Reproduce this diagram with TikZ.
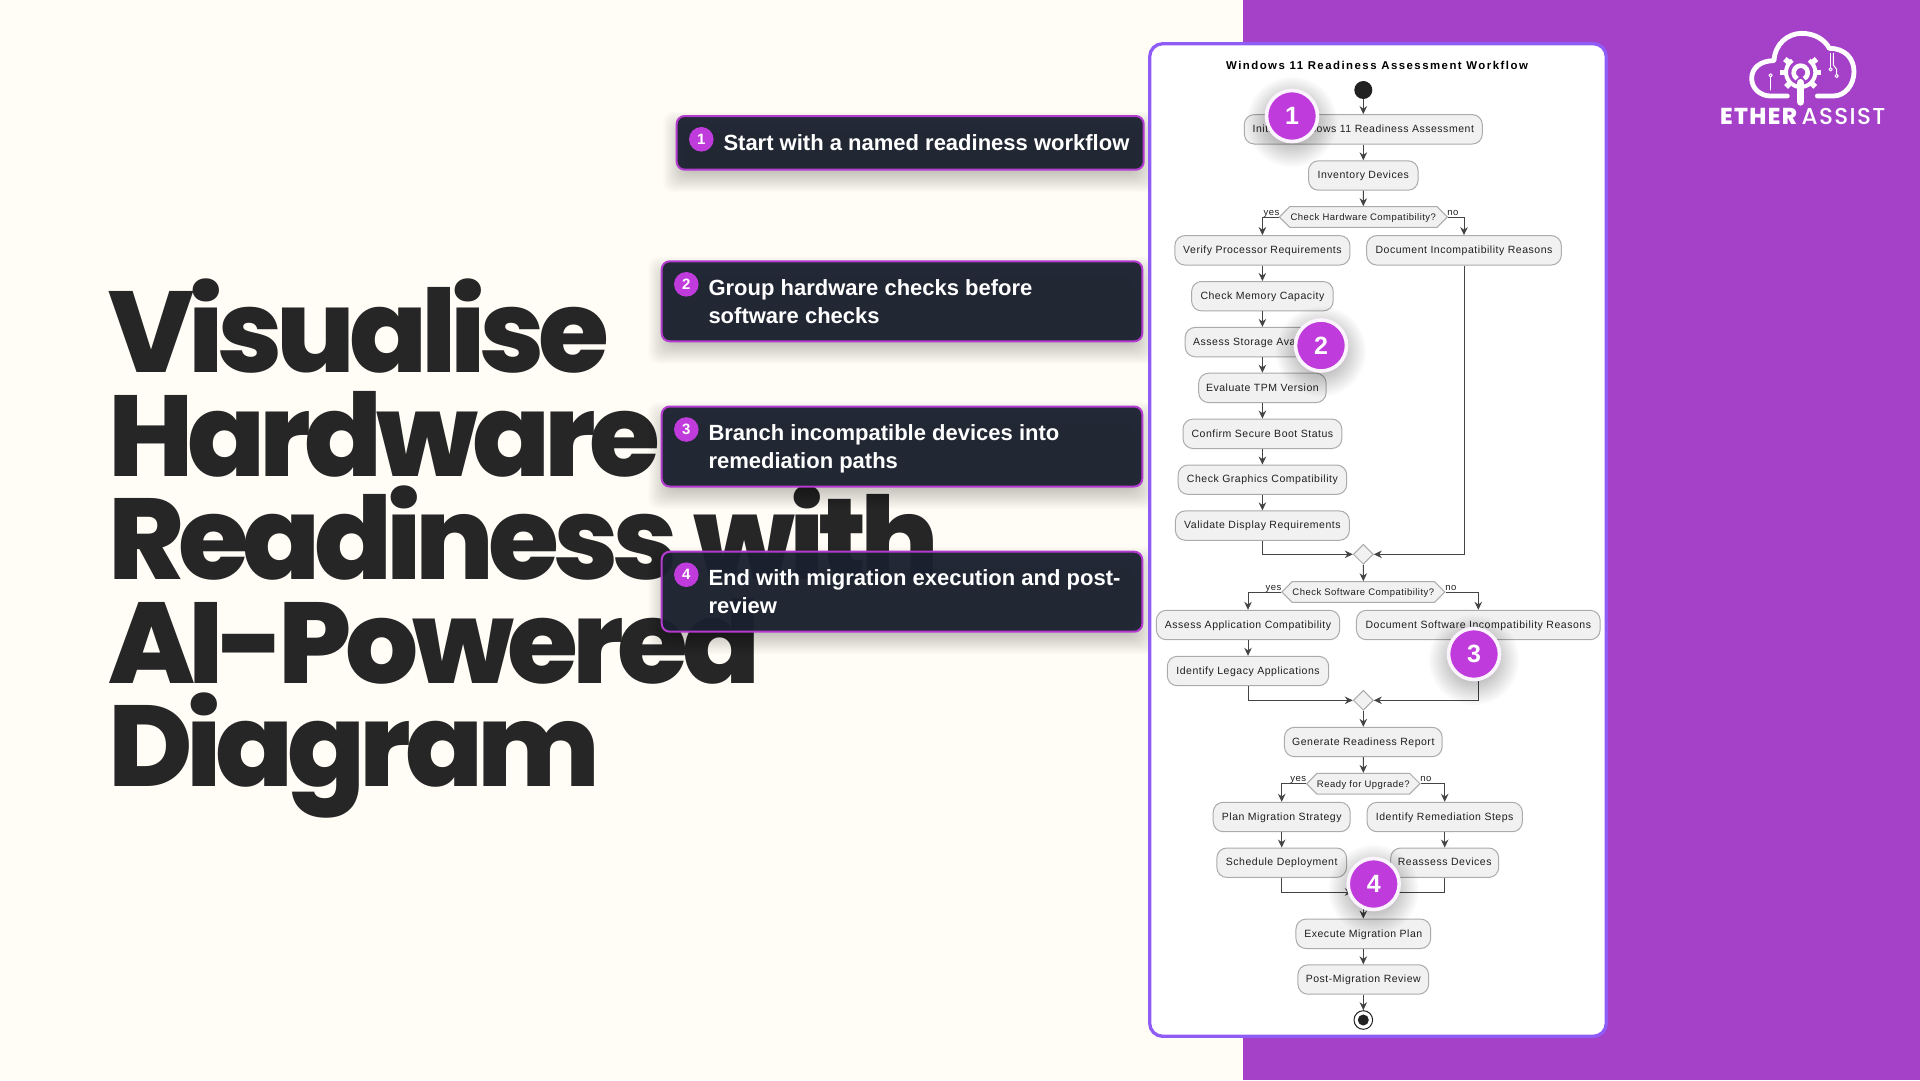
\documentclass[tikz,border=0pt]{standalone}
\usepackage{fontspec}
\usetikzlibrary{arrows.meta,shapes.geometric,shapes.symbols}
\setmainfont{Liberation Sans}
\newfontfamily\flowf[LetterSpace=5]{Liberation Sans}
\newfontfamily\titlef[LetterSpace=13]{Liberation Sans}
\newfontfamily\headf[LetterSpace=-5.4]{Poppins ExtraBold}
\newfontfamily\logof[LetterSpace=6]{Poppins Medium}
\newfontfamily\logox[LetterSpace=6]{Poppins ExtraBold}
\definecolor{cream}{HTML}{FFFDF6}
\definecolor{purp}{HTML}{A540C8}
\definecolor{violet}{HTML}{8F5CF6}
\definecolor{mag}{HTML}{C03BDB}
\definecolor{edgemag}{HTML}{B43BCF}
\definecolor{navy}{HTML}{1B212F}
\definecolor{ink}{HTML}{262626}
\definecolor{boxfill}{HTML}{F1F1F1}
\definecolor{boxline}{HTML}{ABABAB}
\definecolor{lineink}{HTML}{444444}
\tikzset{
  act/.style={draw=boxline,fill=boxfill,line width=1pt,rounded corners=10pt,minimum height=29.4pt,inner sep=0pt,text height=8.4pt,text depth=2pt,text=black!88,font=\flowf\fontsize{10.5}{12}\selectfont},
  decide/.style={draw=boxline,fill=boxfill,line width=1pt,shape=signal,signal to=west and east,signal pointer angle=90,minimum height=20.6pt,inner sep=0pt,text height=9.4pt,text depth=2pt,text=black!88,font=\flowf\fontsize{9.5}{11}\selectfont},
  merge/.style={draw=boxline,fill=boxfill,line width=1pt,shape=diamond,aspect=1,minimum size=20pt,inner sep=0pt},
  branchlabel/.style={anchor=base,inner sep=0pt,text=black!88,font=\flowf\fontsize{9.5}{11}\selectfont},
  flowline/.style={draw=lineink,line width=1pt,-{Stealth[length=8pt,width=7.5pt,inset=2.6pt]}},
  callout/.style={draw=edgemag,line width=2pt,fill=navy,fill opacity=.955,draw opacity=1,rounded corners=8pt,inner sep=0pt},
  callnum/.style={circle,fill=mag,minimum size=24.6pt,inner sep=0pt,text=white,font=\bfseries\fontsize{15}{15}\selectfont},
  calltext/.style={inner sep=0pt,align=left,text=white,font=\bfseries\fontsize{22}{28}\selectfont},
  badge/.style={circle,fill=mag,draw=mag!6!white,line width=3.6pt,minimum size=51pt,inner sep=0pt,text=white,font=\bfseries\fontsize{25}{25}\selectfont},
  logoline/.style={draw=white,line cap=round,line join=round}
}
\newcommand{\boxshadow}[5]{%
  \foreach \s in {-10,-8.5,...,13}{\fill[black,fill opacity=.017,rounded corners=10pt] ({#1-\s},{#2-\s+#5}) rectangle ({#3+\s},{#4+\s+#5});}}
\newcommand{\discshadow}[3]{%
  \foreach \s in {-6,-4,...,20}{\fill[black,fill opacity=.02] ({#1},{#2+6}) circle ({#3+\s});}}
\begin{document}
\begin{tikzpicture}[x=1pt,y=-1pt]
\useasboundingbox (0,0) rectangle (1920,1080);
\fill[cream] (0,0) rectangle (1243,1080);
\fill[purp] (1243,0) rectangle (1920,1080);
% headline
\node[anchor=north west,inner sep=0pt,align=left,text=ink,font=\headf\fontsize{115}{103.5}\selectfont] (headline) at (108,279) {Visualise\\Hardware\\Readiness with\\AI-Powered\\Diagram};
% logo
\begin{scope}[shift={(1680,10)},x=.3333pt,y=-.3333pt]
  \draw[logoline,line width=4.8pt] (322,258) -- (272,258) .. controls (240,258) and (215,235) .. (215,205) .. controls (215,175) and (240,152) .. (282,152) .. controls (285,100) and (325,70) .. (365,70) .. controls (405,70) and (435,90) .. (448,115) .. controls (495,115) and (522,145) .. (522,185) .. controls (522,225) and (495,258) .. (460,258) -- (412,258);
  \draw[logoline,line width=4pt,line cap=butt] (362,187) ++(-125:44) arc[start angle=-125,end angle=-235,radius=44];
  \draw[logoline,line width=4pt,line cap=butt] (362,187) ++(-55:44) arc[start angle=-55,end angle=125,radius=44];
  \foreach \a in {90,45,135,0,180,-40,-140}{\draw[logoline,line width=5.4pt,line cap=butt] (362,187) ++(\a:44) -- ++(\a:18);}
  \draw[logoline,line width=4.6pt,line cap=butt] (362,188) ++(60:21) arc[start angle=60,end angle=-240,radius=21];
  \draw[logoline,line width=7.4pt] (362,218) -- (362,276);
  \draw[logoline,line width=1pt] (272,201) -- (272,240);
  \draw[logoline,line width=1pt] (272,196) circle (5);
  \draw[logoline,line width=1pt] (452,130) -- (452,173);
  \draw[logoline,line width=1pt] (452,178) circle (5);
  \draw[logoline,line width=1pt] (460,130) -- (460,165) -- (470,178) -- (470,193);
  \draw[logoline,line width=1pt] (470,198) circle (5);
\end{scope}
\node[anchor=base west,inner sep=0pt,text=white,font=\logox\fontsize{23}{23}\selectfont] (logoa) at (1720,124) {ETHER};
\node[anchor=base west,inner sep=0pt,text=white,font=\logof\fontsize{23}{23}\selectfont] (logob) at (1801.5,124) {ASSIST};
% callouts
\boxshadow{675.7}{115}{1144.7}{170.7}{9}
\node[callout,minimum width=467pt,minimum height=53.7pt] (c1) at (910.2,142.85) {};
\node[callnum] (cn1) at (701.3,139.3) {1};
\node[calltext,anchor=base west] (ct1) at (723.3,150) {Start with a named readiness workflow};
\boxshadow{660.7}{260.3}{1143.3}{342.3}{9}
\node[callout,minimum width=480.6pt,minimum height=80pt] (c2) at (902,301.3) {};
\node[callnum] (cn2) at (686.3,284.3) {2};
\node[calltext,anchor=west] (ct2) at (708.3,303.5) {\vphantom{bp}Group hardware checks before\\\vphantom{bp}software checks};
\boxshadow{660.7}{405.5}{1143.3}{487.5}{9}
\node[callout,minimum width=480.6pt,minimum height=80pt] (c3) at (902,446.5) {};
\node[callnum] (cn3) at (686.3,429.5) {3};
\node[calltext,anchor=west] (ct3) at (708.3,448.7) {\vphantom{bp}Branch incompatible devices into\\\vphantom{bp}remediation paths};
\boxshadow{660.7}{550.7}{1143.3}{632.7}{9}
\node[callout,minimum width=480.6pt,minimum height=80pt] (c4) at (902,591.7) {};
\node[callnum] (cn4) at (686.3,574.7) {4};
\node[calltext,anchor=west] (ct4) at (708.3,593.9) {\vphantom{bp}End with migration execution and post-\\\vphantom{bp}review};
% panel
\node[draw=violet,fill=white,line width=3.3pt,rounded corners=13pt,minimum width=456.6pt,minimum height=992.6pt,inner sep=0pt] (panel) at (1378,540) {};
\node[inner sep=0pt,text=black,font=\titlef\bfseries\fontsize{11.4}{13}\selectfont] (ptitle) at (1377,65) {Windows 11 Readiness Assessment Workflow};
% flow nodes
\node[circle,fill=black!87,minimum size=18pt,inner sep=0pt] (start) at (1363.3,90) {};
\node[act,minimum width=238pt] (n1) at (1363.3,129.3) {Initiate Windows 11 Readiness Assessment};
\node[act,minimum width=109.6pt] (n2) at (1363.3,175.5) {Inventory Devices};
\node[decide,minimum width=168pt] (d1) at (1363.3,217) {Check Hardware Compatibility?};
\node[branchlabel] (y1) at (1271.5,215) {yes};
\node[branchlabel] (no1) at (1453,215) {no};
\node[act,minimum width=175pt] (h1) at (1262.4,250.3) {Verify Processor Requirements};
\node[act,minimum width=141.6pt] (h2) at (1262.4,296.2) {Check Memory Capacity};
\node[act,minimum width=154.4pt] (h3) at (1262.4,342.1) {Assess Storage Availability};
\node[act,minimum width=127.4pt] (h4) at (1262.4,387.9) {Evaluate TPM Version};
\node[act,minimum width=158.8pt] (h5) at (1262.4,433.8) {Confirm Secure Boot Status};
\node[act,minimum width=168.6pt] (h6) at (1262.4,479.7) {Check Graphics Compatibility};
\node[act,minimum width=174pt] (h7) at (1262.4,525.6) {Validate Display Requirements};
\node[act,minimum width=194.6pt] (r1) at (1464,250.3) {Document Incompatibility Reasons};
\node[merge] (m1) at (1363.3,554.3) {};
\node[decide,minimum width=163pt] (d2) at (1363.3,592) {Check Software Compatibility?};
\node[branchlabel] (y2) at (1273.5,590) {yes};
\node[branchlabel] (no2) at (1451,590) {no};
\node[act,minimum width=183.3pt] (s1) at (1248,625) {Assess Application Compatibility};
\node[act,minimum width=161.4pt] (s2) at (1248,671) {Identify Legacy Applications};
\node[act,minimum width=243.7pt] (r2) at (1478.3,625) {Document Software Incompatibility Reasons};
\node[merge] (m2) at (1363.3,700.3) {};
\node[act,minimum width=157.7pt] (g) at (1363.3,742) {Generate Readiness Report};
\node[decide,minimum width=113.3pt] (d3) at (1363.3,783.7) {Ready for Upgrade?};
\node[branchlabel] (y3) at (1298.3,781) {yes};
\node[branchlabel] (no3) at (1426,781) {no};
\node[act,minimum width=137pt] (p1) at (1281.7,817) {Plan Migration Strategy};
\node[act,minimum width=129.7pt] (p2) at (1281.7,862.7) {Schedule Deployment};
\node[act,minimum width=155.3pt] (q1) at (1444.7,817) {Identify Remediation Steps};
\node[act,minimum width=108pt] (q2) at (1444.7,862.7) {Reassess Devices};
\node[merge] (m3) at (1363.3,892) {};
\node[act,minimum width=134.7pt] (e1) at (1363.3,933.8) {Execute Migration Plan};
\node[act,minimum width=130.7pt] (e2) at (1363.3,979.5) {Post-Migration Review};
\node[circle,draw=black!87,fill=white,line width=1pt,minimum size=18.6pt,inner sep=0pt] (endo) at (1363.3,1020) {};
\node[circle,fill=black!87,minimum size=11pt,inner sep=0pt] (endi) at (1363.3,1020) {};
% connectors
\draw[flowline] (start) -- (n1);
\draw[flowline] (n1) -- (n2);
\draw[flowline] (n2) -- (d1);
\draw[flowline] (d1.west) -| (h1.north);
\draw[flowline] (d1.east) -| (r1.north);
\draw[flowline] (h1) -- (h2);
\draw[flowline] (h2) -- (h3);
\draw[flowline] (h3) -- (h4);
\draw[flowline] (h4) -- (h5);
\draw[flowline] (h5) -- (h6);
\draw[flowline] (h6) -- (h7);
\draw[flowline] (h7.south) |- (m1.west);
\draw[flowline] (r1.south) |- (m1.east);
\draw[flowline] (m1) -- (d2);
\draw[flowline] (d2.west) -| (s1.north);
\draw[flowline] (d2.east) -| (r2.north);
\draw[flowline] (s1) -- (s2);
\draw[flowline] (s2.south) |- (m2.west);
\draw[flowline] (r2.south) |- (m2.east);
\draw[flowline] (m2) -- (g);
\draw[flowline] (g) -- (d3);
\draw[flowline] (d3.west) -| (p1.north);
\draw[flowline] (d3.east) -| (q1.north);
\draw[flowline] (p1) -- (p2);
\draw[flowline] (q1) -- (q2);
\draw[flowline] (p2.south) |- (m3.west);
\draw[flowline] (q2.south) |- (m3.east);
\draw[flowline] (m3) -- (e1);
\draw[flowline] (e1) -- (e2);
\draw[flowline] (e2) -- (endo);
% numbered badges
\discshadow{1292}{116}{25}
\node[badge] (b1) at (1292,116) {1};
\discshadow{1321}{345.5}{25}
\node[badge] (b2) at (1321,345.5) {2};
\discshadow{1474}{654}{25}
\node[badge] (b3) at (1474,654) {3};
\discshadow{1373.7}{884}{25}
\node[badge] (b4) at (1373.7,884) {4};
\end{tikzpicture}
\end{document}
